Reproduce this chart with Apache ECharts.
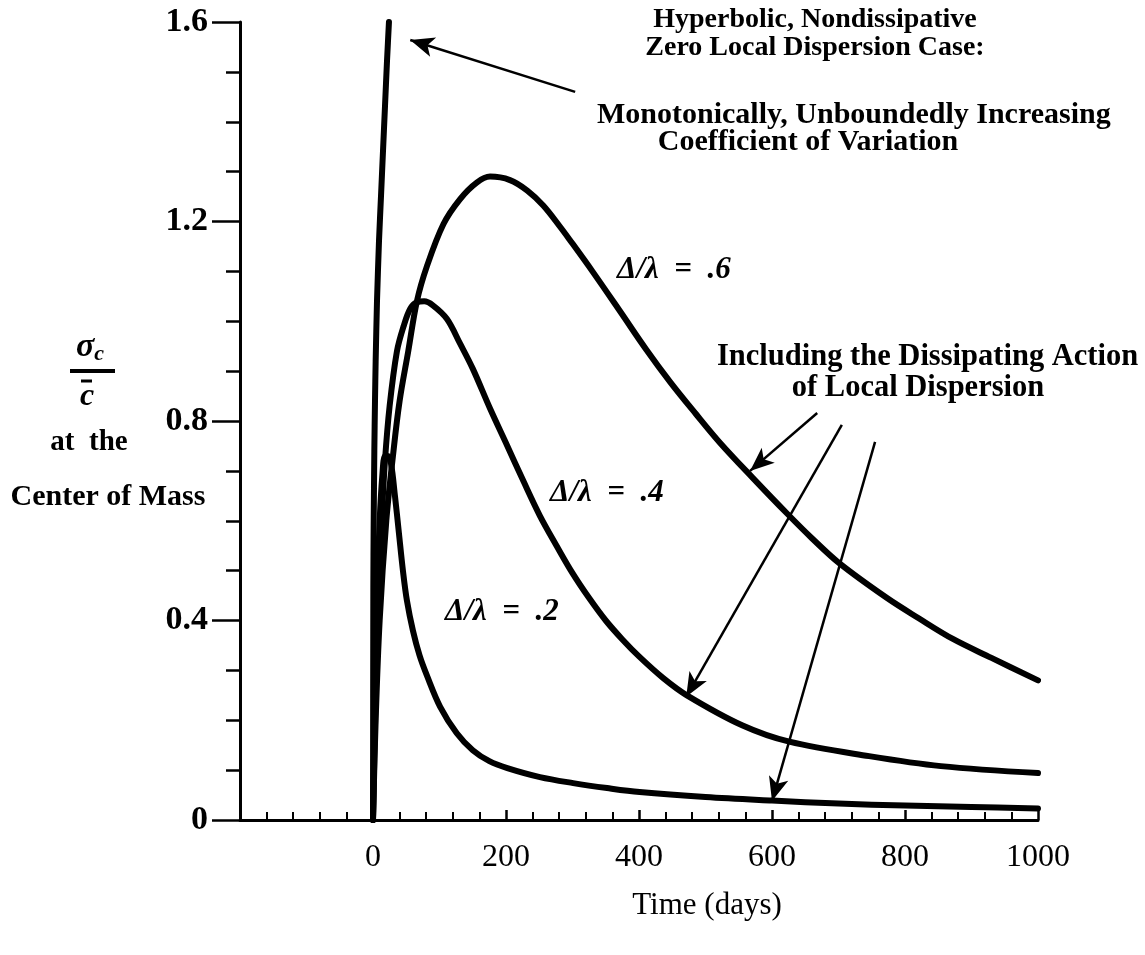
<!DOCTYPE html>
<html><head><meta charset="utf-8">
<script src="https://cdn.jsdelivr.net/npm/echarts@6/dist/echarts.min.js"></script>
<style>html,body{margin:0;padding:0;background:#fff}#c{width:1145px;height:955px}</style>
</head><body><div id="c"></div>
<script>
// Hyperbolic, nondissipative (zero local dispersion) case
const hypDays = [0, 0.5, 1, 2, 3, 4, 6, 9, 12, 15, 18, 21, 24];
const hypVals = [0, 0.47, 0.59, 0.74, 0.84, 0.92, 1.04, 1.16, 1.25, 1.34, 1.43, 1.52, 1.6];
// Δ/λ = .2
const d2Days = [0, 3, 6, 10, 14, 18, 22, 27, 33, 39, 45, 51, 60, 70, 81, 101, 126, 150, 175, 202, 251, 301, 352, 401, 500, 600, 700, 800, 900, 1000];
const d2Vals = [0, 0.25, 0.45, 0.6, 0.69, 0.73, 0.73, 0.715, 0.65, 0.575, 0.5, 0.44, 0.38, 0.33, 0.29, 0.227, 0.174, 0.14, 0.118, 0.104, 0.086, 0.074, 0.064, 0.056, 0.046, 0.039, 0.033, 0.029, 0.026, 0.023];
// Δ/λ = .4
const d4Days = [0, 4, 8, 13, 18, 25, 36, 46, 56, 66, 77, 90, 111, 131, 150, 176, 202, 226, 251, 276, 300, 325, 350, 375, 400, 436, 472, 555, 626, 746, 854, 1000];
const d4Vals = [0, 0.25, 0.45, 0.6, 0.72, 0.83, 0.94, 0.99, 1.025, 1.038, 1.04, 1.032, 1.005, 0.955, 0.905, 0.825, 0.75, 0.68, 0.61, 0.55, 0.495, 0.445, 0.40, 0.362, 0.328, 0.285, 0.25, 0.19, 0.157, 0.128, 0.108, 0.094];
// Δ/λ = .6
const d6Days = [0, 4, 10, 20, 30, 40, 53, 66, 81, 106, 131, 156, 176, 206, 232, 256, 281, 296, 330, 371, 410, 447, 485, 522, 571, 623, 660, 702, 773, 820, 872, 930, 1000];
const d6Vals = [0, 0.2, 0.4, 0.6, 0.73, 0.84, 0.94, 1.04, 1.11, 1.195, 1.245, 1.278, 1.29, 1.283, 1.262, 1.232, 1.19, 1.163, 1.10, 1.021, 0.945, 0.878, 0.815, 0.756, 0.686, 0.614, 0.565, 0.514, 0.445, 0.405, 0.363, 0.325, 0.28];

const xTickLabels = ['0', '200', '400', '600', '800', '1000'];
const yTickLabels = ['0', '0.4', '0.8', '1.2', '1.6'];

// annotation arrows (start -> tip), in data coordinates [days, value]
const arrowTop = [[304, 1.46], [56, 1.564]];
const arrowA = [[668, 0.816], [567, 0.70]];
const arrowB = [[705, 0.792], [471, 0.247]];
const arrowC = [[755, 0.758], [600, 0.038]];

const FONT = '"Liberation Serif", "DejaVu Serif", serif';
const pairs = (xs, ys) => xs.map((x, i) => [x, ys[i]]);

const chart = echarts.init(document.getElementById('c'), null, {renderer: 'canvas'});
const curveStyle = w => ({color: '#000', width: w, cap: 'round', join: 'round'});
const mkSeries = (name, xs, ys, w) => ({
  name, type: 'line', data: pairs(xs, ys), showSymbol: false, symbol: 'none',
  smooth: 0.35, lineStyle: curveStyle(w), silent: true, z: 3
});
const arrowPair = a => [{coord: a[0]}, {coord: a[1]}];
const txt = (text, x, y, font, align) => ({type: 'text', silent: true,
  style: {text, x, y, align: align || 'center', verticalAlign: 'middle', font: font + ' ' + FONT, fill: '#000'}});

const option = {
  animation: false,
  backgroundColor: '#fff',
  grid: {left: 240, right: 107, top: 22, bottom: 135, containLabel: false},
  xAxis: {
    type: 'value', min: -200, max: 1000, interval: 200,
    axisLine: {show: true, onZero: false, lineStyle: {color: '#000', width: 3}},
    axisTick: {show: true, inside: true, length: 10, lineStyle: {color: '#000', width: 2.5}},
    minorTick: {show: true, splitNumber: 5, length: 8, lineStyle: {color: '#000', width: 2}},
    splitLine: {show: false},
    axisLabel: {
      margin: 22, fontSize: 32, fontFamily: FONT, color: '#000',
      formatter: v => v < 0 ? '' : xTickLabels[Math.round(v / 200)]
    }
  },
  yAxis: {
    type: 'value', min: 0, max: 1.6, interval: 0.4,
    axisLine: {show: true, onZero: false, lineStyle: {color: '#000', width: 3}},
    axisTick: {show: true, inside: false, length: 28, lineStyle: {color: '#000', width: 2.5}},
    minorTick: {show: true, splitNumber: 4, length: 14, lineStyle: {color: '#000', width: 2.5}},
    splitLine: {show: false},
    axisLabel: {
      margin: 32, fontSize: 34, fontWeight: 'bold', fontFamily: FONT, color: '#000',
      formatter: v => yTickLabels[Math.round(v / 0.4)]
    }
  },
  series: [
    Object.assign(mkSeries('Hyperbolic', hypDays, hypVals, 6), {
      smooth: 0.2,
      markLine: {
        silent: true, animation: false, symbol: ['none', 'arrow'], symbolSize: [15, 24],
        label: {show: false}, emphasis: {disabled: true},
        lineStyle: {color: '#000', width: 2.5, type: 'solid'},
        data: [arrowPair(arrowTop), arrowPair(arrowA), arrowPair(arrowB), arrowPair(arrowC)]
      }
    }),
    mkSeries('Δ/λ = .2', d2Days, d2Vals, 6),
    mkSeries('Δ/λ = .4', d4Days, d4Vals, 6),
    mkSeries('Δ/λ = .6', d6Days, d6Vals, 6)
  ],
  graphic: [
    txt('Hyperbolic, Nondissipative', 815, 20, 'bold 28px'),
    txt('Zero Local Dispersion Case:', 815, 48, 'bold 28px'),
    txt('Monotonically, Unboundedly Increasing', 597, 115, 'bold 30px', 'left'),
    txt('Coefficient of Variation', 808, 142, 'bold 30px'),
    txt('Δ/λ  =  .6', 617, 270, 'italic bold 31px', 'left'),
    txt('Δ/λ  =  .4', 550, 493, 'italic bold 31px', 'left'),
    txt('Δ/λ  =  .2', 445, 612, 'italic bold 31px', 'left'),
    txt('Including the Dissipating Action', 717, 357, 'bold 30.5px', 'left'),
    txt('of Local Dispersion', 918, 388, 'bold 30.5px'),
    txt('Time (days)', 707, 906, '31px'),
    // y-axis title
    {type: 'text', silent: true, style: {text: '{s|σ}{b|c}', x: 90, y: 347, align: 'center', verticalAlign: 'middle', fill: '#000',
      rich: {s: {font: 'italic bold 34px ' + FONT, fill: '#000'}, b: {font: 'italic bold 22px ' + FONT, fill: '#000', padding: [14, 0, 0, 0]}}}},
    {type: 'line', silent: true, shape: {x1: 70, y1: 371, x2: 115, y2: 371}, style: {stroke: '#000', lineWidth: 4}},
    {type: 'line', silent: true, shape: {x1: 81, y1: 381, x2: 92, y2: 381}, style: {stroke: '#000', lineWidth: 3}},
    txt('c', 87, 397, 'italic bold 32px'),
    txt('at  the', 89, 443, 'bold 29px'),
    txt('Center of Mass', 108, 497, 'bold 30px')
  ]
};
chart.setOption(option);
</script></body></html>
